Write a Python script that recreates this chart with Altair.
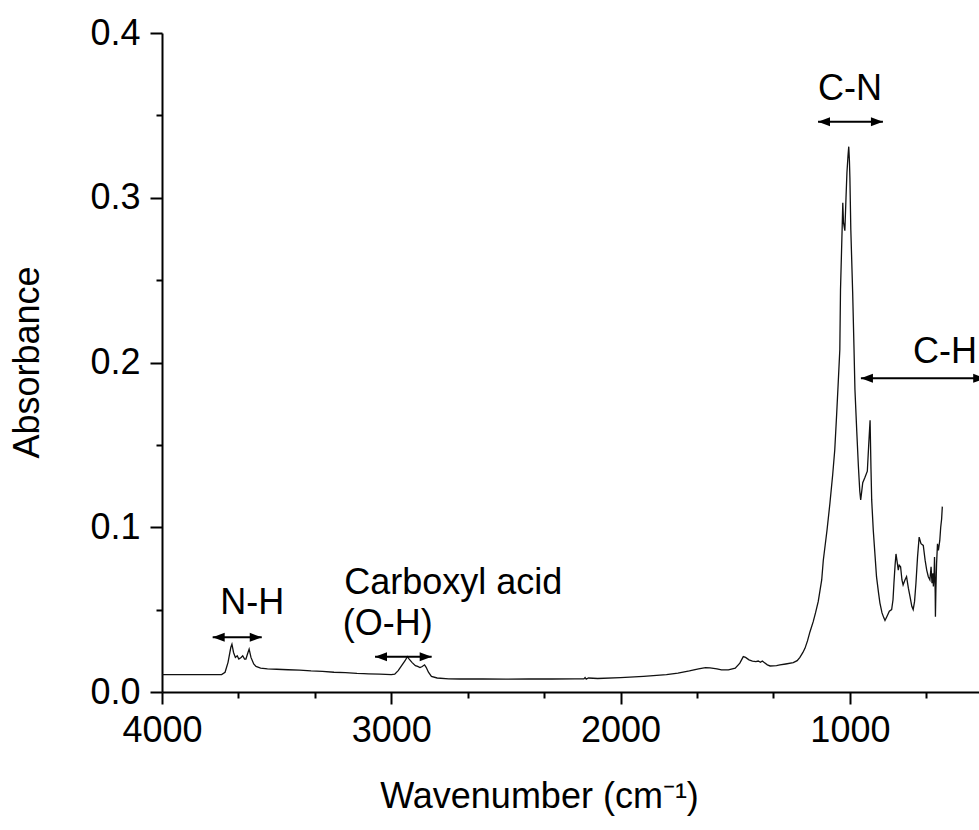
import altair as alt
import pandas as pd

# FTIR absorbance spectrum (wavenumber in cm^-1, descending)
wavenumber = [
    4000, 3800, 3740, 3725, 3712, 3700, 3695, 3688, 3680, 3672, 3665, 3655,
    3648, 3640, 3634, 3625, 3620, 3612, 3600, 3590, 3570, 3540, 3500, 3450,
    3400, 3350, 3300, 3250, 3200, 3150, 3120, 3100, 3050, 3000, 2985, 2970,
    2955, 2940, 2930, 2922, 2910, 2895, 2885, 2875, 2865, 2855, 2848, 2838,
    2825, 2800, 2750, 2700, 2600, 2500, 2400, 2300, 2200, 2160, 2155, 2150,
    2140, 2100, 2000, 1900, 1800, 1750, 1700, 1660, 1630, 1610, 1580, 1560,
    1530, 1500, 1480, 1465, 1455, 1440, 1425, 1410, 1400, 1390, 1382, 1375,
    1360, 1348, 1320, 1305, 1280, 1247, 1230, 1218, 1205, 1196, 1185, 1174,
    1160, 1150, 1138, 1130, 1123, 1116, 1100, 1087, 1075, 1066, 1058, 1051,
    1044, 1041, 1034, 1031, 1028, 1022, 1017, 1013, 1008, 1005, 1002, 1000,
    996, 988, 982, 978, 970, 963, 957, 953, 950, 944, 935, 924, 918, 912,
    908, 905, 898, 890, 884, 875, 869, 860, 852, 847, 838, 828, 818, 812,
    808, 803, 799, 795, 789, 785, 779, 773, 768, 760, 753, 745, 738, 730,
    724, 718, 712, 705, 698, 690, 680, 672, 665, 658, 651, 646, 642, 638,
    636, 633, 631, 628, 627, 625, 622, 618, 614, 608, 604, 600, 597,
]
absorbance = [
    0.0105, 0.0105, 0.0106, 0.0120, 0.0180, 0.0270, 0.0290, 0.0240, 0.0210, 0.0220, 0.0200, 0.0210,
    0.0220, 0.0200, 0.0200, 0.0240, 0.0260, 0.0210, 0.0170, 0.0155, 0.0145, 0.0140, 0.0138, 0.0135,
    0.0133, 0.0128, 0.0125, 0.0120, 0.0118, 0.0113, 0.0111, 0.0110, 0.0108, 0.0105, 0.0108, 0.0130,
    0.0160, 0.0190, 0.0215, 0.0200, 0.0180, 0.0160, 0.0155, 0.0148, 0.0155, 0.0165, 0.0150, 0.0120,
    0.0095, 0.0085, 0.0080, 0.0079, 0.0079, 0.0078, 0.0079, 0.0079, 0.0080, 0.0080, 0.0088, 0.0078,
    0.0085, 0.0082, 0.0087, 0.0095, 0.0105, 0.0115, 0.0128, 0.0140, 0.0148, 0.0146, 0.0140, 0.0134,
    0.0134, 0.0145, 0.0175, 0.0215, 0.0210, 0.0195, 0.0188, 0.0185, 0.0188, 0.0180, 0.0188, 0.0180,
    0.0165, 0.0158, 0.0160, 0.0164, 0.0170, 0.0178, 0.0190, 0.0210, 0.0240, 0.0265, 0.0310, 0.0366,
    0.0427, 0.0480, 0.0550, 0.0620, 0.0680, 0.0800, 0.0980, 0.1147, 0.1320, 0.1470, 0.1680, 0.1876,
    0.2077, 0.2440, 0.2806, 0.2970, 0.2850, 0.2800, 0.3000, 0.3150, 0.3260, 0.3310, 0.3220, 0.3120,
    0.2806, 0.2428, 0.2077, 0.1834, 0.1580, 0.1370, 0.1220, 0.1166, 0.1200, 0.1270, 0.1300, 0.1340, 0.1500, 0.1650,
    0.1350, 0.1166, 0.0980, 0.0820, 0.0700, 0.0600, 0.0540, 0.0480, 0.0450, 0.0434, 0.0460, 0.0490, 0.0500, 0.0560,
    0.0660, 0.0770, 0.0838, 0.0800, 0.0740, 0.0770, 0.0760, 0.0680, 0.0650, 0.0680, 0.0700, 0.0630, 0.0580, 0.0520,
    0.0500, 0.0550, 0.0660, 0.0820, 0.0940, 0.0900, 0.0890, 0.0800, 0.0740, 0.0700, 0.0680, 0.0760, 0.0660, 0.0720,
    0.0640, 0.0700, 0.0820, 0.0600, 0.0457, 0.0620, 0.0780, 0.0900, 0.0860, 0.0920, 0.1000, 0.1050, 0.1125,
]

# Band annotations
centered_text = ["N-H", "C-N"]
centered_x = [3606, 1000]
centered_y = [0.0543, 0.366]

left_text = ["Carboxyl acid", "(O-H)", "C-H"]
left_x = [3205, 3212, 725]
left_y = [0.0662, 0.0413, 0.2064]

# Double-headed arrows marking band ranges
arrow_from = [3779, 3071, 1139, 952]
arrow_to = [3565, 2824, 856, 410]
arrow_y = [0.0332, 0.0214, 0.3462, 0.1904]

x_ticks = [4000, 11000 / 3, 10000 / 3, 3000, 8000 / 3, 7000 / 3, 2000,
           5000 / 3, 4000 / 3, 1000, 2000 / 3]
y_ticks = [0, 0.05, 0.1, 0.15, 0.2, 0.25, 0.3, 0.35, 0.4]

FONT = "Liberation Sans"
FS = 36

spectrum = pd.DataFrame({"wavenumber": wavenumber, "absorbance": absorbance})
arrows = pd.DataFrame({"start": arrow_from, "end": arrow_to, "y": arrow_y})
ctext = pd.DataFrame({"t": centered_text, "x": centered_x, "y": centered_y})
ltext = pd.DataFrame({"t": left_text, "x": left_x, "y": left_y})

x_scale = alt.Scale(domain=[4000, 437], nice=False, zero=False)
y_scale = alt.Scale(domain=[0, 0.4], nice=False)

x_axis = alt.Axis(
    values=x_ticks,
    labelExpr="datum.value % 1000 === 0 ? format(datum.value, 'd') : ''",
    tickSize={"condition": {"test": "datum.value % 1000 === 0", "value": 12}, "value": 6},
    title="Wavenumber (cm⁻¹)",
    titleX=377, titleY=104, titleAlign="center", titleBaseline="middle",
    titleFontSize=FS, titleFont=FONT, titleFontWeight="normal", titleColor="black",
    labelFontSize=FS, labelFont=FONT, labelColor="black", labelPadding=9,
    labelFlush=False, labelOverlap=False,
    domainColor="black", domainWidth=2, tickColor="black", tickWidth=2,
    grid=False,
)
y_axis = alt.Axis(
    values=y_ticks,
    labelExpr="abs(datum.value * 10 - round(datum.value * 10)) < 1e-6 ? format(datum.value, '.1f') : ''",
    tickSize={"condition": {"test": "abs(datum.value * 10 - round(datum.value * 10)) < 1e-6", "value": 12}, "value": 6},
    title="Absorbance",
    titleX=-135, titleY=329, titleAngle=-90, titleAlign="center", titleBaseline="middle",
    titleFontSize=FS, titleFont=FONT, titleFontWeight="normal", titleColor="black",
    labelFontSize=FS, labelFont=FONT, labelColor="black", labelPadding=10,
    labelFlush=False, labelOverlap=False,
    domainColor="black", domainWidth=2, tickColor="black", tickWidth=2,
    grid=False,
)

line = alt.Chart(spectrum).mark_line(color="#111111", strokeWidth=1.3, clip=True).encode(
    x=alt.X("wavenumber:Q", scale=x_scale, axis=x_axis),
    y=alt.Y("absorbance:Q", scale=y_scale, axis=y_axis),
)

shafts = alt.Chart(arrows).mark_rule(color="black", strokeWidth=2, clip=True).encode(
    x="start:Q", x2="end:Q", y="y:Q",
)
left_heads = alt.Chart(arrows).mark_point(
    shape="M0,0L2,-0.75L2,0.75Z", filled=True, color="black", opacity=1, size=144, clip=True
).encode(x="start:Q", y="y:Q")
right_heads = alt.Chart(arrows).mark_point(
    shape="M0,0L-2,-0.75L-2,0.75Z", filled=True, color="black", opacity=1, size=144, clip=True
).encode(x="end:Q", y="y:Q")

center_labels = alt.Chart(ctext).mark_text(
    font=FONT, fontSize=FS, color="black", align="center", baseline="middle", clip=True
).encode(x="x:Q", y="y:Q", text="t:N")
left_labels = alt.Chart(ltext).mark_text(
    font=FONT, fontSize=FS, color="black", align="left", baseline="middle", clip=True
).encode(x="x:Q", y="y:Q", text="t:N")

chart = alt.layer(line, shafts, left_heads, right_heads, center_labels, left_labels).properties(
    width=817, height=659,
    autosize=alt.AutoSizeParams(type="none"),
    padding={"left": 162, "top": 33, "right": 0, "bottom": 138},
    background="white",
).configure_view(stroke=None)

chart.save("out.html", embed_options={"renderer": "svg", "actions": False})
